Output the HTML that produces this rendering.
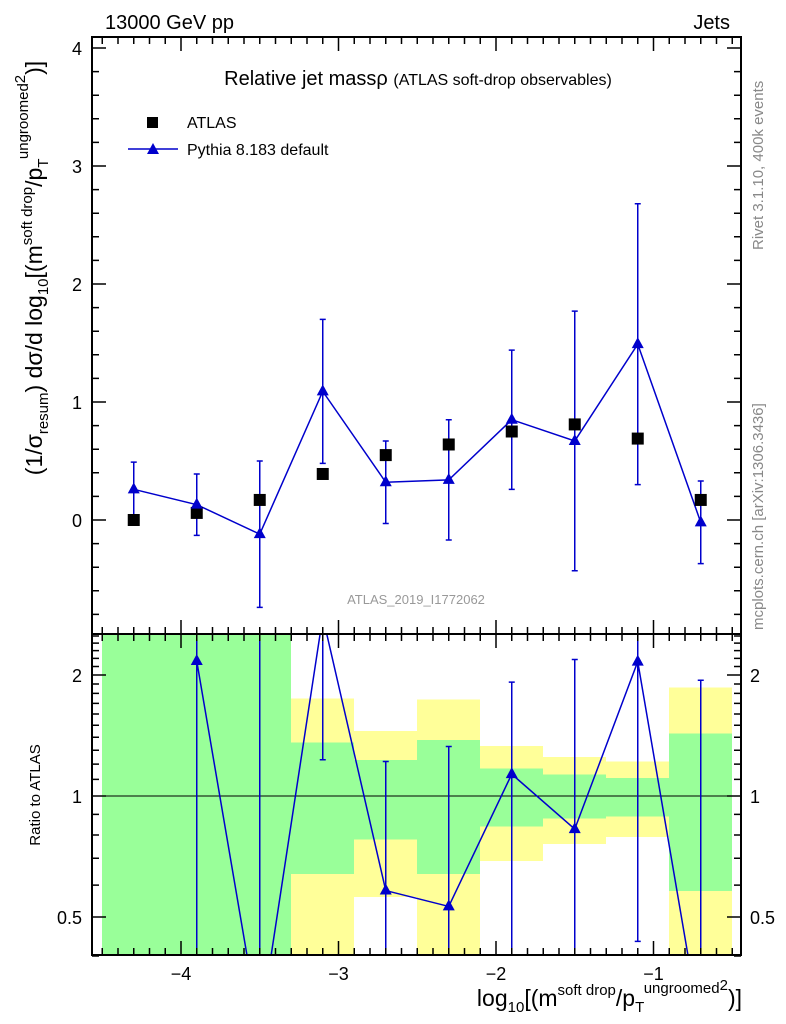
<!DOCTYPE html>
<html><head><meta charset="utf-8"><style>
html,body{margin:0;background:#fff;overflow:hidden;width:786px;height:1024px;}
svg{display:block;font-family:"Liberation Sans",sans-serif;}
</style></head><body>
<svg id="c" width="786" height="1024" viewBox="0 0 786 1024">
<defs>
<clipPath id="cm"><rect x="92" y="37" width="649" height="597"/></clipPath>
<clipPath id="cr"><rect x="92" y="634" width="649" height="321"/></clipPath>
</defs>
<g id="bands" clip-path="url(#cr)" shape-rendering="crispEdges"></g>
<g id="marks"></g>
<g id="axes"></g>
<text x="105" y="29" font-size="20">13000 GeV pp</text>
<text x="730" y="29" font-size="20" text-anchor="end">Jets</text>
<text x="418" y="85" font-size="20" text-anchor="middle">Relative jet massρ <tspan font-size="16">(ATLAS soft-drop observables)</tspan></text>
<g>
<rect x="147" y="117" width="11" height="11" fill="#000"/>
<text x="187" y="128" font-size="16">ATLAS</text>
<line x1="128" y1="149" x2="178" y2="149" stroke="#00c" stroke-width="1.5"/>
<path d="M153,143 L159,154 L147,154Z" fill="#00c"/>
<text x="187" y="155" font-size="16">Pythia 8.183 default</text>
</g>
<text x="416" y="604" font-size="13" fill="#999" text-anchor="middle">ATLAS_2019_I1772062</text>
<text transform="translate(763,250) rotate(-90)" font-size="15" fill="#888">Rivet 3.1.10,  400k events</text>
<text transform="translate(763,630) rotate(-90)" font-size="15" fill="#888">mcplots.cern.ch [arXiv:1306.3436]</text>
<text transform="translate(42,268) rotate(-90)" font-size="23" text-anchor="middle">(1/σ<tspan font-size="15" dy="6">resum</tspan><tspan dy="-6">) dσ/d log</tspan><tspan font-size="15" dy="6">10</tspan><tspan dy="-6">[(m</tspan><tspan font-size="15" dy="-10">soft drop</tspan><tspan dy="10">/p</tspan><tspan font-size="15" dy="6">T</tspan><tspan font-size="15" dy="-20">ungroomed</tspan><tspan font-size="15" dy="-3">2</tspan><tspan dy="17">)]</tspan></text>
<text transform="translate(40,795) rotate(-90)" font-size="15" text-anchor="middle">Ratio to ATLAS</text>
<text x="742" y="1006" font-size="23" text-anchor="end">log<tspan font-size="15" dy="6">10</tspan><tspan dy="-6">[(m</tspan><tspan font-size="15" dy="-11">soft drop</tspan><tspan dy="11">/p</tspan><tspan font-size="15" dy="6">T</tspan><tspan font-size="15" dy="-19">ungroomed</tspan><tspan font-size="15" dy="-3">2</tspan><tspan dy="16">)]</tspan></text>
<script>
const binCenters=[-4.3,-3.9,-3.5,-3.1,-2.7,-2.3,-1.9,-1.5,-1.1,-0.7];
const binWidth=0.4;
const atlasValues=[0.0,0.06,0.17,0.39,0.55,0.64,0.75,0.81,0.69,0.17];
const pythiaValues=[0.26,0.13,-0.12,1.09,0.32,0.34,0.85,0.67,1.49,-0.02];
const pythiaErrors=[0.23,0.26,0.62,0.61,0.35,0.51,0.59,1.1,1.19,0.35];
const bandTotalUp=[5,5,5,1.75,1.45,1.74,1.33,1.25,1.22,1.86];
const bandTotalDown=[0.1,0.1,0.1,0.1,0.56,0.1,0.69,0.76,0.79,0.1];
const bandStatUp=[5,5,5,1.36,1.23,1.38,1.17,1.13,1.11,1.43];
const bandStatDown=[0.1,0.1,0.1,0.64,0.78,0.64,0.84,0.88,0.89,0.58];
const xTicks=[-4,-3,-2,-1];
const yTicks=[0,1,2,3,4];
const rTicks=[0.5,1,2];
const NS='http://www.w3.org/2000/svg';
const X=v=>181+(v+4)*157.5;
const Y=v=>520-v*118;
const R=r=>r>0?796-121*Math.log2(r):1030;
function el(p,t,a){const e=document.createElementNS(NS,t);for(const k in a)e.setAttribute(k,a[k]);p.appendChild(e);return e;}
const bands=document.getElementById('bands'),marks=document.getElementById('marks'),axes=document.getElementById('axes');
binCenters.forEach((c,i)=>{
 const x0=Math.round(X(c-binWidth/2)),w=Math.round(X(c+binWidth/2))-x0;
 const a=el(bands,'rect',{x:x0,y:R(bandTotalUp[i]),width:w,height:R(bandTotalDown[i])-R(bandTotalUp[i]),fill:'#ffff99'});
 
 
 const b=el(bands,'rect',{x:x0,y:R(bandStatUp[i]),width:w,height:R(bandStatDown[i])-R(bandStatUp[i]),fill:'#99ff99'});
 
 
});
el(bands,'line',{x1:92,x2:741,y1:R(1),y2:R(1),stroke:'#000','stroke-width':1.2});
const gm=el(marks,'g',{'clip-path':'url(#cm)'});
const gr=el(marks,'g',{'clip-path':'url(#cr)'});
function tri(g,x,y){return el(g,'path',{d:`M${x},${y-7} L${x+6},${y+4} L${x-6},${y+4}Z`,fill:'#00c'});}
el(gm,'polyline',{points:binCenters.map((c,i)=>X(c)+','+Y(pythiaValues[i])).join(' '),fill:'none',stroke:'#00c','stroke-width':1.5});
binCenters.forEach((c,i)=>{
 const x=X(c);
 const e=el(gm,'path',{d:`M${x},${Y(pythiaValues[i]+pythiaErrors[i])}V${Y(pythiaValues[i]-pythiaErrors[i])}M${x-3},${Y(pythiaValues[i]+pythiaErrors[i])}h6M${x-3},${Y(pythiaValues[i]-pythiaErrors[i])}h6`,stroke:'#00c','stroke-width':1.5,fill:'none'});
 
 
 const s=el(gm,'rect',{x:x-6,y:Y(atlasValues[i])-6,width:12,height:12,fill:'#000'});
 
 
 const t=tri(gm,x,Y(pythiaValues[i]));
 
 
});
const ratios=pythiaValues.map((v,i)=>atlasValues[i]!==0?v/atlasValues[i]:NaN);
const pts=[];binCenters.forEach((c,i)=>{if(isFinite(ratios[i]))pts.push(X(c)+','+R(ratios[i]));});
el(gr,'polyline',{points:pts.join(' '),fill:'none',stroke:'#00c','stroke-width':1.5});
binCenters.forEach((c,i)=>{
 if(!isFinite(ratios[i]))return;
 const x=X(c),hi=(pythiaValues[i]+pythiaErrors[i])/atlasValues[i],lo=(pythiaValues[i]-pythiaErrors[i])/atlasValues[i];
 const e=el(gr,'path',{d:`M${x},${R(hi)}V${R(lo)}M${x-3},${R(hi)}h6M${x-3},${R(lo)}h6`,stroke:'#00c','stroke-width':1.5,fill:'none'});
 
 
 const t=tri(gr,x,R(ratios[i]));
 
 
});
el(axes,'rect',{x:92,y:37,width:649,height:918,fill:'none',stroke:'#000','stroke-width':2});
el(axes,'line',{x1:92,x2:741,y1:634,y2:634,stroke:'#000','stroke-width':2});
let d='';
for(let k=-45;k<=-5;k++){const v=k/10;const x=X(v);const maj=k%10===0;const L=maj?14:7;
 d+=`M${x},955v${-L}M${x},37v${L}M${x},634v${-L}M${x},634v${L}`;}
for(let k=-4;k<=20;k++){const v=k/5;const y=Y(v);const maj=k%5===0;const L=maj?14:7;d+=`M92,${y}h${L}M741,${y}h${-L}`;}
[0.4,0.5,0.6,0.7,0.8,0.9,1,1.1,1.2,1.3,1.4,1.5,1.6,1.7,1.8,1.9,2,2.1,2.2,2.3,2.4,2.5].forEach(r=>{const y=R(r);const L=rTicks.includes(r)?14:7;d+=`M92,${y}h${L}M741,${y}h${-L}`;});
el(axes,'path',{d:d,stroke:'#000','stroke-width':1.5,fill:'none'});
xTicks.forEach(v=>{const t=el(axes,'text',{x:X(v),y:980,'font-size':18,'text-anchor':'middle'});t.textContent='\u2212'+Math.abs(v);
 
 });
yTicks.forEach(v=>{const t=el(axes,'text',{x:82,y:Y(v)+7,'font-size':18,'text-anchor':'end'});t.textContent=v;
 
 });
rTicks.forEach(r=>{[[82,'end'],[750,'start']].forEach(([x,a])=>{const t=el(axes,'text',{x:x,y:R(r)+7,'font-size':18,'text-anchor':a});t.textContent=r;
 
 });});
</script>
</svg>
</body></html>
